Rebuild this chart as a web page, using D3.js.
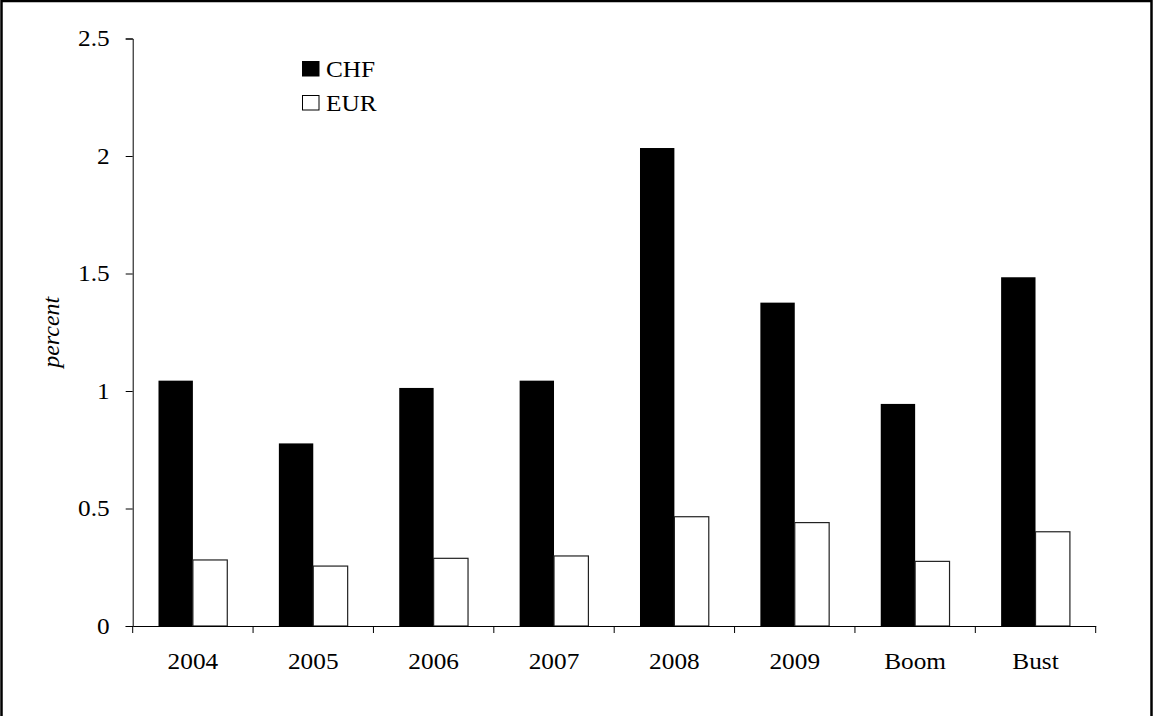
<!DOCTYPE html>
<html>
<head>
<meta charset="utf-8">
<script src="https://cdn.jsdelivr.net/npm/d3@7"></script>
<style>
  body { margin: 0; background: #fff; }
  text { font-family: "Liberation Serif", "Times New Roman", serif; fill: #000; }
</style>
</head>
<body>
<div id="chart"></div>
<script>
// values
const categories = ['2004', '2005', '2006', '2007', '2008', '2009', 'Boom', 'Bust'];
const seriesNames = ['CHF', 'EUR'];
const chfValues = [1.044, 0.777, 1.013, 1.044, 2.034, 1.376, 0.945, 1.484];
const eurValues = [0.281, 0.255, 0.288, 0.298, 0.465, 0.440, 0.275, 0.401];
const yTicks = [0, 0.5, 1, 1.5, 2, 2.5];

const width = 1155, height = 716;
const margin = {top: 38.5, right: 59.3, bottom: 90, left: 132.7};
const fontSize = 23;
const stretch = 1.1; // text in the original is a bit wider than normal

const svg = d3.select('#chart').append('svg')
    .attr('width', width)
    .attr('height', height);

// outer frame
svg.append('rect')
    .attr('x', 1.5).attr('y', 1)
    .attr('width', 1150).attr('height', 800)
    .attr('fill', 'none')
    .attr('stroke', '#000')
    .attr('stroke-width', 2.5);

const x0 = d3.scaleBand()
    .domain(categories)
    .range([margin.left, width - margin.right])
    .padding(0);

const x1 = d3.scaleBand()
    .domain(seriesNames)
    .range([0, x0.bandwidth()])
    .paddingInner(0)
    .paddingOuter(0.75);

const y = d3.scaleLinear()
    .domain([0, 2.5])
    .range([height - margin.bottom, margin.top]);

const color = d3.scaleOrdinal().domain(seriesNames).range(['#000', '#fff']);

const rows = categories.map((c, i) => ({cat: c, CHF: chfValues[i], EUR: eurValues[i]}));

// bars
const groups = svg.selectAll('g.cat')
    .data(rows)
    .join('g')
    .attr('class', 'cat')
    .attr('transform', d => `translate(${x0(d.cat)},0)`);

groups.selectAll('rect')
    .data(d => seriesNames.map(s => ({key: s, value: d[s]})))
    .join('rect')
    .attr('x', d => x1(d.key))
    .attr('y', d => y(d.value))
    .attr('width', x1.bandwidth())
    .attr('height', d => y(0) - y(d.value))
    .attr('fill', d => color(d.key))
    .attr('stroke', d => d.key === 'EUR' ? '#222' : 'none')
    .attr('stroke-width', 1.2);

// y axis
const yAxis = svg.append('g')
    .attr('transform', `translate(${margin.left},0)`)
    .call(d3.axisLeft(y).tickValues(yTicks).tickFormat(d => String(d)).tickSize(7).tickPadding(14));
yAxis.selectAll('text')
    .attr('font-size', fontSize)
    .attr('font-family', '"Liberation Serif", serif')
    .attr('transform', `scale(${stretch},1)`);

// x axis: labels at centres, ticks at category boundaries
const xAxis = svg.append('g')
    .attr('transform', `translate(0,${y(0)})`)
    .call(d3.axisBottom(x0).tickSize(0).tickPadding(26.7).tickSizeOuter(0));
xAxis.selectAll('text')
    .attr('font-size', fontSize)
    .attr('font-family', '"Liberation Serif", serif')
    .attr('transform', `scale(${stretch},1)`);

const bounds = categories.map(c => x0(c)).concat([x0(categories[categories.length - 1]) + x0.bandwidth()]);
xAxis.selectAll('line.bound')
    .data(bounds)
    .join('line')
    .attr('class', 'bound')
    .attr('x1', d => d).attr('x2', d => d)
    .attr('y1', 0).attr('y2', 7)
    .attr('stroke', '#000');

svg.selectAll('.domain').attr('stroke', '#000');
svg.selectAll('.tick line').attr('stroke', '#000');

// y label
svg.append('text')
    .attr('transform', `translate(59,${(y(0) + y(2.5)) / 2}) rotate(-90)`)
    .attr('text-anchor', 'middle')
    .attr('font-size', 24)
    .attr('font-style', 'italic')
    .text('percent');

// legend
const legend = svg.append('g').attr('transform', 'translate(302,61)');
seriesNames.forEach((s, i) => {
    legend.append('rect')
        .attr('x', 0.5).attr('y', i * 34 + 0.5)
        .attr('width', 16.5).attr('height', 14.5)
        .attr('fill', color(s))
        .attr('stroke', '#000')
        .attr('stroke-width', 1);
    legend.append('text')
        .attr('transform', `translate(24,${i * 34 + 15.5}) scale(${stretch},1)`)
        .attr('font-size', fontSize)
        .text(s);
});
</script>
</body>
</html>
